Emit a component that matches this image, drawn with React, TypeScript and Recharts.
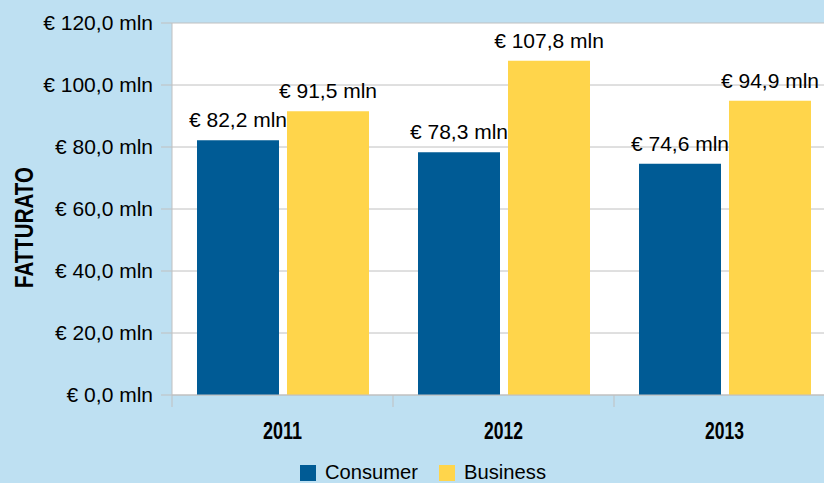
import { BarChart, Bar, XAxis, YAxis, CartesianGrid, Legend, LabelList, Label } from 'recharts';

const years = ['2011', '2012', '2013'];
const consumer = [82.2, 78.3, 74.6];
const business = [91.5, 107.8, 94.9];
const yTicks = [0, 20, 40, 60, 80, 100, 120];

const data = years.map((year, i) => ({ year, consumer: consumer[i], business: business[i] }));

const BLUE = '#005b95';
const YELLOW = '#ffd54b';
const GRID = '#c0c0c0';
const FONT = "'Liberation Sans', Arial, sans-serif";

const eur = (v: any) => `€ ${Number(v).toFixed(1).replace('.', ',')} mln`;

// category ticks sit on the band edges, labels in the middle
function YearTick(props: any) {
  const { x, y, payload } = props;
  const half = payload?.offset || 110.5;
  const axisY = y - 27;
  return (
    <g>
      <line x1={x - half} x2={x - half} y1={axisY} y2={axisY + 12} stroke={GRID} />
      <text x={x} y={y + 17} textAnchor="middle" fontFamily={FONT} fontWeight="bold" fontSize={23}
        textLength={39} lengthAdjust="spacingAndGlyphs" fill="#000">
        {payload.value}
      </text>
    </g>
  );
}

const series = [
  { name: 'Consumer', color: BLUE, x: 0, len: 93 },
  { name: 'Business', color: YELLOW, x: 139, len: 82 },
];

const LegendContent = () => (
  <svg width={260} height={30} style={{ display: 'block', overflow: 'visible' }}>
    {series.map((s) => (
      <g key={s.name}>
        <rect x={s.x} y={12} width={16} height={16} fill={s.color} />
        <text x={s.x + 25} y={25.5} fontFamily={FONT} fontSize={21} textLength={s.len}
          lengthAdjust="spacingAndGlyphs" fill="#000">
          {s.name}
        </text>
      </g>
    ))}
  </svg>
);

export default function App() {
  return (
    <div style={{ position: 'absolute', left: 0, top: 0, width: 824, height: 483, overflow: 'hidden', background: '#bee0f2' }}>
      <BarChart width={835} height={483} data={data} margin={{ top: 23, right: 0, bottom: 0, left: 0 }} barSize={82} barGap={8}>
        <CartesianGrid vertical={false} stroke={GRID} fill="#fff" />
        <XAxis
          dataKey="year"
          height={58}
          axisLine={{ stroke: GRID }}
          tickLine={false}
          tickSize={12}
          tickMargin={15}
          tick={<YearTick />}
          interval={0}
        />
        <YAxis
          width={172}
          domain={[0, 120]}
          ticks={yTicks}
          tickFormatter={eur}
          axisLine={{ stroke: GRID }}
          tickLine={{ stroke: GRID }}
          tickSize={11}
          tickMargin={8}
          tick={{ fill: '#000', fontSize: 21, fontFamily: FONT }}
        >
          <Label
            content={(p: any) => {
              const vb = p.viewBox || { x: 0, y: 23, height: 372 };
              const lx = vb.x + 33;
              const ly = vb.y + vb.height / 2 + 18.5;
              return (
                <text x={lx} y={ly} transform={`rotate(-90 ${lx} ${ly})`} textAnchor="middle" fontFamily={FONT}
                  fontWeight="bold" fontSize={26} textLength={121} lengthAdjust="spacingAndGlyphs" fill="#000">
                  FATTURATO
                </text>
              );
            }}
          />
        </YAxis>
        <Legend verticalAlign="bottom" wrapperStyle={{ left: 300, width: 'auto', height: 30 }} content={LegendContent} />
        <Bar dataKey="consumer" name="Consumer" fill={BLUE} isAnimationActive={false}>
          <LabelList dataKey="consumer" position="top" offset={13} formatter={eur} fill="#000" fontSize={21} fontFamily={FONT} />
        </Bar>
        <Bar dataKey="business" name="Business" fill={YELLOW} isAnimationActive={false}>
          <LabelList dataKey="business" position="top" offset={13} formatter={eur} fill="#000" fontSize={21} fontFamily={FONT} />
        </Bar>
      </BarChart>
    </div>
  );
}
